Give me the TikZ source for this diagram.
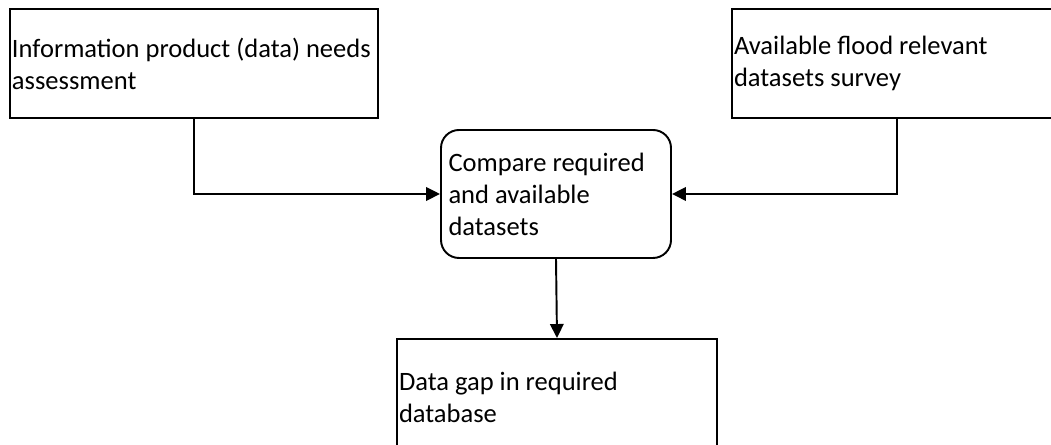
\documentclass[tikz,border=0pt]{standalone}
\usepackage{fontspec}
\setmainfont{Carlito}
\usetikzlibrary{arrows.meta}

\begin{document}
\begin{tikzpicture}[
        box/.style={draw, line width=1.1pt, align=flush left, inner xsep=0.04cm, inner ysep=0pt,
            font=\fontsize{15.1}{18.2}\selectfont},
        >={Triangle[length=0.28cm,width=0.27cm]}]
            \useasboundingbox (0,0) rectangle (21.02,8.9);
            \clip (0,0) rectangle (21.02,8.9);
            \node[box, minimum height=2.18cm, text width=7.28cm] (A) at (3.88,7.63) {\mbox{Information product (data) needs}\\assessment};
            \node[box, minimum height=2.18cm, text width=6.52cm] (B) at (17.94,7.63) {Available flood relevant\\datasets survey};
            \node[box, rounded corners=0.36cm, inner xsep=0.15cm, minimum height=2.56cm, text width=4.3cm] (C) at (11.12,5.02) {Compare required\\and available\\datasets};
            \node[box, minimum height=2.32cm, text width=6.32cm] (D) at (11.14,0.96) {Data gap in required\\database};
            \draw[->, line width=1.1pt] (A.south) |- (C.west);
            \draw[->, line width=1.1pt] (B.south) |- (C.east);
            \draw[->, line width=1.1pt] (C.south) -- (D.north);
        \end{tikzpicture}
\end{document}
